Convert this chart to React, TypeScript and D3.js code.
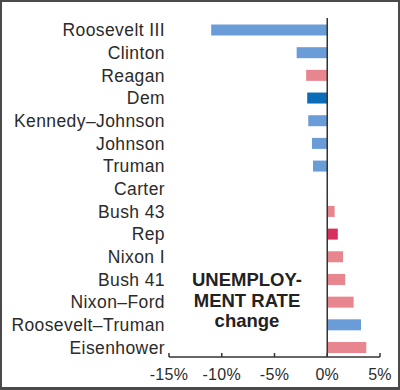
import * as d3 from "d3";

const presidents = [
  "Roosevelt III",
  "Clinton",
  "Reagan",
  "Dem",
  "Kennedy–Johnson",
  "Johnson",
  "Truman",
  "Carter",
  "Bush 43",
  "Rep",
  "Nixon I",
  "Bush 41",
  "Nixon–Ford",
  "Roosevelt–Truman",
  "Eisenhower",
];
const changes = [-11.0, -2.9, -2.0, -1.9, -1.8, -1.45, -1.35, 0, 0.7, 1.0, 1.5, 1.7, 2.5, 3.2, 3.7];
// d = democrat, r = republican, D/R = party averages
const parties = ["d", "d", "r", "D", "d", "d", "d", "d", "r", "R", "r", "r", "r", "d", "r"];
const tickValues = [-15, -10, -5, 0, 5];
const titleLines = ["UNEMPLOY-", "MENT RATE", "change"];

const colors: Record<string, string> = {
  d: "#6a9dd8",
  D: "#0b6cb8",
  r: "#e8868f",
  R: "#d8305e",
};

export default function App() {
  const width = 400;
  const height = 390;
  const x = d3.scaleLinear().domain([-15, 5]).range([169, 380]);
  const y = d3.scalePoint<string>().domain(presidents).range([30, 347.5]);
  const axisY = 357;
  const barH = 11;
  const font = "'Liberation Sans', Arial, Helvetica, sans-serif";

  return (
    <svg
      width={width}
      height={height}
      style={{ position: "absolute", left: 0, top: 0, background: "#fff" }}
    >
      <rect x={1} y={1} width={width - 2} height={height - 2.5} fill="#fff" stroke="#4a4a4a" strokeWidth={2} />
      <line x1={0} x2={width} y1={388.5} y2={388.5} stroke="#4a4a4a" strokeWidth={3} />
      {/* bars */}
      <g>
        {presidents.map((p, i) => (
          <rect
            key={p}
            x={Math.min(x(0), x(changes[i]))}
            y={y(p)! - barH / 2}
            width={Math.abs(x(changes[i]) - x(0))}
            height={barH}
            fill={colors[parties[i]]}
          />
        ))}
      </g>
      {/* labels */}
      <g fontFamily={font} fontSize={17.5} fill="#2b2b2b" textAnchor="end" letterSpacing={0.4}>
        {presidents.map((p) => (
          <text key={p} x={165} y={y(p)!} dy="0.36em">
            {p}
          </text>
        ))}
      </g>
      {/* zero line */}
      <line x1={x(0)} x2={x(0)} y1={18} y2={axisY} stroke="#333" strokeWidth={1.5} />
      {/* axis */}
      <g stroke="#333" strokeWidth={1.5}>
        <line x1={x(-15)} x2={x(5)} y1={axisY} y2={axisY} />
        {tickValues.map((t) => (
          <line key={t} x1={x(t)} x2={x(t)} y1={axisY} y2={axisY - 4} />
        ))}
      </g>
      <g fontFamily={font} fontSize={16} fill="#2b2b2b" textAnchor="middle" letterSpacing={0.3}>
        {tickValues.map((t) => (
          <text key={t} x={x(t)} y={380}>
            {`${t}%`}
          </text>
        ))}
      </g>
      {/* title */}
      <g fontFamily={font} fontSize={18.5} fontWeight="bold" fill="#222" textAnchor="middle">
        {titleLines.map((l, i) => (
          <text key={l} x={247} y={286 + i * 20.5}>
            {l}
          </text>
        ))}
      </g>
    </svg>
  );
}
